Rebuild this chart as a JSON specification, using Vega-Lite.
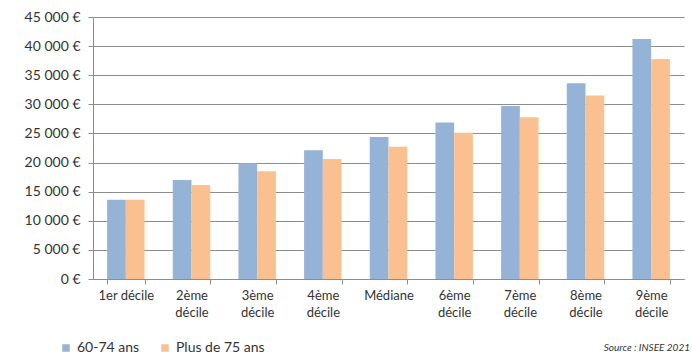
{
  "$schema": "https://vega.github.io/schema/vega-lite/v6.json",
  "width": 591,
  "height": 262,
  "autosize": {"type": "none"},
  "padding": {"left": 93, "top": 17, "right": 8, "bottom": 75},
  "background": "white",
  "config": {
    "view": {"stroke": null},
    "font": "Lato"
  },
  "data": {
    "values": [
      {"decile": "1er décile", "groupe": "60-74 ans", "revenu": 13600},
      {"decile": "1er décile", "groupe": "Plus de 75 ans", "revenu": 13600},
      {"decile": "2ème décile", "groupe": "60-74 ans", "revenu": 17000},
      {"decile": "2ème décile", "groupe": "Plus de 75 ans", "revenu": 16150},
      {"decile": "3ème décile", "groupe": "60-74 ans", "revenu": 19900},
      {"decile": "3ème décile", "groupe": "Plus de 75 ans", "revenu": 18500},
      {"decile": "4ème décile", "groupe": "60-74 ans", "revenu": 22100},
      {"decile": "4ème décile", "groupe": "Plus de 75 ans", "revenu": 20600},
      {"decile": "Médiane", "groupe": "60-74 ans", "revenu": 24400},
      {"decile": "Médiane", "groupe": "Plus de 75 ans", "revenu": 22700},
      {"decile": "6ème décile", "groupe": "60-74 ans", "revenu": 26900},
      {"decile": "6ème décile", "groupe": "Plus de 75 ans", "revenu": 25100},
      {"decile": "7ème décile", "groupe": "60-74 ans", "revenu": 29700},
      {"decile": "7ème décile", "groupe": "Plus de 75 ans", "revenu": 27800},
      {"decile": "8ème décile", "groupe": "60-74 ans", "revenu": 33600},
      {"decile": "8ème décile", "groupe": "Plus de 75 ans", "revenu": 31500},
      {"decile": "9ème décile", "groupe": "60-74 ans", "revenu": 41200},
      {"decile": "9ème décile", "groupe": "Plus de 75 ans", "revenu": 37800}
    ]
  },
  "mark": {"type": "bar"},
  "encoding": {
    "x": {
      "field": "decile",
      "type": "nominal",
      "sort": null,
      "title": null,
      "scale": {"paddingInner": 0.43, "paddingOuter": 0.215},
      "axis": {
        "labelAngle": 0,
        "labelFont": "Lato",
        "labelFontSize": 13,
        "labelColor": "#333333",
        "labelPadding": 5,
        "labelLineHeight": 17,
        "labelBaseline": "top",
        "tickBand": "extent",
        "tickSize": 5,
        "tickColor": "#8C8C8C",
        "domainColor": "#8C8C8C",
        "labelExpr": "indexof(datum.label, 'ème') > 0 ? split(datum.label, ' ') : datum.label"
      }
    },
    "xOffset": {"field": "groupe", "sort": ["60-74 ans", "Plus de 75 ans"]},
    "y": {
      "field": "revenu",
      "type": "quantitative",
      "title": null,
      "scale": {"domain": [0, 45000]},
      "axis": {
        "values": [0, 5000, 10000, 15000, 20000, 25000, 30000, 35000, 40000, 45000],
        "labelFont": "Lato",
        "labelFontSize": 14,
        "labelColor": "#333333",
        "labelPadding": 8,
        "tickSize": 5,
        "tickColor": "#8C8C8C",
        "domainColor": "#8C8C8C",
        "gridColor": "#8C8C8C",
        "labelExpr": "replace(format(datum.value, ',d'), ',', ' ') + ' €'"
      }
    },
    "color": {
      "field": "groupe",
      "type": "nominal",
      "scale": {"domain": ["60-74 ans", "Plus de 75 ans"], "range": ["#95B3D7", "#FAC090"]},
      "legend": {
        "title": null,
        "orient": "none",
        "direction": "horizontal",
        "legendX": -34,
        "legendY": 324,
        "symbolType": "square",
        "symbolSize": 56,
        "symbolStrokeWidth": 0,
        "labelFont": "Lato",
        "labelFontSize": 14,
        "labelColor": "#333333",
        "labelOffset": 4,
        "columnPadding": 18
      }
    }
  },
  "title": {
    "text": "Source : INSEE 2021",
    "orient": "bottom",
    "anchor": "end",
    "baseline": "bottom",
    "font": "Lato",
    "fontSize": 10,
    "fontStyle": "italic",
    "fontWeight": "normal",
    "color": "#333333",
    "offset": 0,
    "dx": 6,
    "dy": -2
  }
}
